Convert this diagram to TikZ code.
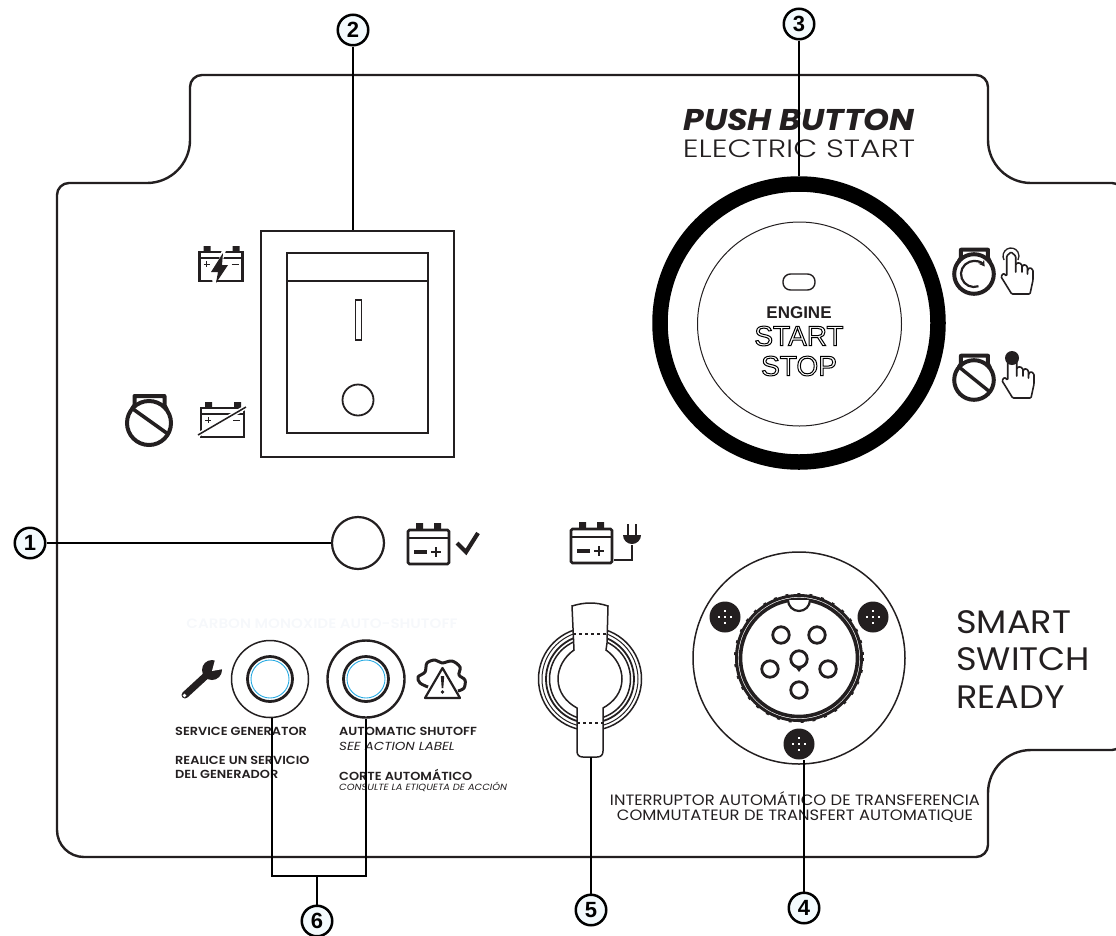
\documentclass[tikz,border=0pt]{standalone}
\usepackage{fontspec}
\usepackage{xcolor}
\usepackage{tikz}
\usetikzlibrary{arrows.meta}
\setmainfont{Poppins}
\newfontfamily\helvfont{Liberation Sans}
\newfontfamily\thinfont[FakeStretch=1.25]{Poppins Light}
\newfontfamily\widefont[FakeStretch=1.08]{Poppins}
\newfontfamily\capsfont[FakeStretch=1.1]{Poppins SemiBold}
\definecolor{PANELink}{HTML}{231F20}
\definecolor{PANELfaint}{HTML}{F6F8FB}
\definecolor{PANELcall}{HTML}{F3FAFD}
\definecolor{PANELcyan}{HTML}{29ABE2}
\newcommand{\outlined}[1]{\special{pdf:code q 1 Tr 1 w}#1\special{pdf:code Q}}
\tikzset{
  x=1pt, y=-1pt,
  panelline/.style={line width=2.4pt, draw=PANELink},
  callnum/.style={circle, draw=black, line width=2.5pt, fill=PANELcall, minimum size=30.5pt, inner sep=0pt, font=\helvfont\bfseries\fontsize{22}{22}\selectfont},
  leader/.style={line width=2.6pt, draw=black},
  thinring/.style={circle, draw=PANELink, line width=1.3pt, inner sep=0pt},
  capleft/.style={anchor=west, inner sep=0pt, text=PANELink, font=\capsfont\fontsize{11.7}{12}\selectfont},
  capital/.style={anchor=west, inner sep=0pt, text=PANELink, font=\fontsize{11.7}{12}\selectfont\itshape\addfontfeature{FakeStretch=1.15}},
  bigword/.style={anchor=west, inner sep=0pt, text=PANELink, font=\widefont\fontsize{32.5}{33}\selectfont},
  transfer/.style={inner sep=0pt, text=PANELink, font=\fontsize{15}{16}\selectfont\addfontfeature{FakeStretch=1.09}},
  pinring/.style={circle, draw=PANELink, line width=2.8pt, minimum size=16.5pt, inner sep=0pt},
  boltdisc/.style={circle, fill=PANELink, minimum size=31pt, inner sep=0pt},
  pics/battbig/.style={code={
    \draw[line width=2.8pt, draw=PANELink, rounded corners=1.5pt] (0,0) rectangle (41,34);
    \fill[PANELink] (8,-7) rectangle (15,0) (26,-7) rectangle (33,0);
    \draw[line width=1.6pt, draw=PANELink] (0,8) -- (41,8);
    \fill[PANELink] (6,20) rectangle (19,24);
    \draw[line width=2pt, draw=PANELink] (23,22) -- (33,22) (28,17) -- (28,27);
  }},
  pics/battsmall/.style={code={
    \draw[line width=2.2pt, draw=PANELink] (0,0) rectangle (43,29);
    \fill[PANELink] (4,-6) rectangle (11,0) (33,-6) rectangle (40,0);
    \draw[line width=1.6pt, draw=PANELink] (0,6) -- (43,6);
    \draw[line width=.8pt, draw=PANELink] (4,12) -- (10,12) (7,9) -- (7,15) (32,12) -- (39,12);
  }},
  pics/engine/.style={code={
    \draw[line width=4pt, draw=PANELink] (0,0) circle[radius=22];
    \draw[line width=4pt, draw=PANELink, line join=round] (-17,-14) -- (-14.5,-18) -- (-14.5,-27) -- (15.5,-27) -- (15.5,-18) -- (18,-13);
  }},
  pics/handicon/.style={code={
    \draw[line width=1.6pt, draw=PANELink, fill=white, rounded corners=1pt, line join=round] (-4.3,0) -- (-4.3,20) -- (-7.7,17.3) -- (-10,20.7) -- (.7,38) -- (19,38) -- (22,24) -- (22,14) -- (19,11.5) -- (16.5,14) -- (16.5,19) -- (16.5,11) -- (14,8.5) -- (11,10) -- (11,17) -- (11,9) -- (8,6.5) -- (4.7,8) -- (4.7,17) -- (4.7,0) -- (0,-4) -- cycle;
  }}
}
\begin{document}
\begin{tikzpicture}
  \useasboundingbox (0,0) rectangle (1116,935);
  \draw[panelline, rounded corners=12pt] (57,500) -- (57,183) [rounded corners=43pt] -- (190,183) [rounded corners=12pt] -- (190,75) -- (988,75) [rounded corners=43pt] -- (988,183) [rounded corners=10pt] -- (1122,183) -- (1122,750) [rounded corners=43pt] -- (988,750) [rounded corners=12pt] -- (988,857) [rounded corners=27pt] -- (57,857) -- (57,500);

  \node[anchor=center, inner sep=0pt, text=PANELink, font=\fontsize{30}{30}\selectfont\bfseries\itshape\addfontfeature{FakeStretch=1.1}] (pushlabel) at (799,120) {PUSH BUTTON};
  \node[anchor=center, inner sep=0pt, text=PANELink, font=\thinfont\fontsize{25}{26}\selectfont] (startlabel) at (799,149) {ELECTRIC START};

  \node[draw=PANELink, line width=2.6pt, minimum width=193pt, minimum height=226pt, inner sep=0pt] (swframe) at (357.5,344) {};
  \node[draw=PANELink, line width=2.2pt, minimum width=141pt, minimum height=180pt, inner sep=0pt] (swrocker) at (357.5,343) {};
  \draw[line width=2.2pt, draw=PANELink] (swrocker.west |- 0,281) -- (swrocker.east |- 0,281);
  \node[draw=PANELink, line width=1.8pt, minimum width=6pt, minimum height=40pt, inner sep=0pt] (swbar) at (358.5,320) {};
  \node[thinring, line width=1.8pt, minimum size=31pt] (swdot) at (358,400) {};

  \pic at (199.5,252) {battsmall};
  \draw[white, line width=4pt] (224,250) -- (214,282);
  \fill[PANELink] (223,253) -- (211,272) -- (218,272) -- (216,283) -- (228,265) -- (222,265) -- cycle;
  \pic at (201,408) {battsmall};
  \draw[white, line width=4.5pt] (198,435) -- (246,407);
  \draw[line width=1.5pt, draw=PANELink] (198,435) -- (246,407);
  \pic at (149,423) {engine};
  \draw[line width=3.6pt, draw=PANELink] (133,409) -- (168,434);

  \node[thinring, line width=2.2pt, minimum size=52pt] (lamp) at (358,543) {};
  \pic at (408,530) {battbig};
  \draw[line width=4.2pt, draw=PANELink] (457,543) -- (466,552) -- (478,533);
  \pic at (571,529) {battbig};
  \draw[line width=1.8pt, draw=PANELink] (614,560) -- (632,560) -- (632,545);
  \fill[PANELink] (623,535) -- (641,535) arc (0:180:9) -- cycle;
  \draw[line width=2.2pt, draw=PANELink] (628,524) -- (628,535) (636,524) -- (636,535);

  \node[circle, draw=black, line width=15.5pt, minimum size=278pt, inner sep=0pt] (keyring) at (799,323) {};
  \node[thinring, line width=1pt, minimum size=204pt] (keycap) at (799.5,324) {};
  \node[draw=PANELink, line width=1.4pt, rounded corners=7.5pt, minimum width=32pt, minimum height=16pt, inner sep=0pt] (keypill) at (799,282) {};
  \node[inner sep=0pt, text=PANELink, font=\helvfont\bfseries\fontsize{17}{17}\selectfont] (keyengine) at (799,313) {ENGINE};
  \node[inner sep=0pt, font=\helvfont\fontsize{28}{28}\selectfont] (keystart) at (799,336) {\outlined{START}};
  \node[inner sep=0pt, font=\helvfont\fontsize{28}{28}\selectfont] (keystop) at (799,366) {\outlined{STOP}};

  \pic[scale=.9] at (974,274) {engine};
  \draw[line width=2.2pt, draw=PANELink, -{Stealth[length=6pt, width=7pt]}] (974,274) ++(70:13) arc (70:325:13);
  \pic at (1011,256) {handicon};
  \draw[line width=1.3pt, draw=PANELink] (1011,256) ++(150:8) arc (150:390:8);
  \pic[scale=.9] at (974,380) {engine};
  \draw[line width=3.4pt, draw=PANELink] (959,367) -- (990,392);
  \pic at (1012,360) {handicon};
  \fill[PANELink] (1012,358) circle[radius=7];

  \node[inner sep=0pt, text=PANELfaint, font=\capsfont\fontsize{13.7}{14}\selectfont] (faintlabel) at (322,624) {CARBON MONOXIDE AUTO-SHUTOFF};

  \draw[line width=7pt, draw=PANELink, line cap=round] (185,695) -- (210,672);
  \fill[PANELink] (212,670) circle[radius=10];
  \fill[white] (212,671) -- (216,656) -- (229,668) -- cycle;
  \fill[white] (184.5,695.5) circle[radius=1.8];

  \node[thinring, line width=1.5pt, minimum size=77pt] (servout) at (270,679) {};
  \node[thinring, line width=2.8pt, minimum size=45pt] (servmid) at (270,679) {};
  \node[circle, draw=PANELcyan, line width=.9pt, minimum size=38pt, inner sep=0pt] (servin) at (270,679) {};
  \node[thinring, line width=2.4pt, minimum size=77pt] (shutout) at (366,679) {};
  \node[thinring, line width=2.8pt, minimum size=45pt] (shutmid) at (366,679) {};
  \node[circle, draw=PANELcyan, line width=.9pt, minimum size=38pt, inner sep=0pt] (shutin) at (366,679) {};

  \draw[line width=3pt, draw=PANELink, line join=round] plot[smooth, tension=.55] coordinates {(428,687) (420,683) (418,677) (425,672) (427,663) (435,660) (442,663) (452,661) (460,667) (459,675) (465,680) (464,688) (458,691)};
  \draw[line width=2.2pt, draw=PANELink, fill=white, line join=round] (442.5,668) -- (425,698) -- (460,698) -- cycle;
  \fill[PANELink] (440.8,676) -- (444.2,676) -- (443.3,688) -- (441.7,688) -- cycle;
  \fill[PANELink] (442.5,692) circle[radius=1.8];

  \node[capleft] (servlabel) at (175,731.5) {SERVICE GENERATOR};
  \node[capleft] (servesa) at (175,760) {REALICE UN SERVICIO};
  \node[capleft] (servesb) at (175,774) {DEL GENERADOR};
  \node[capleft] (shutlabel) at (339,731.5) {AUTOMATIC SHUTOFF};
  \node[capital] (shutsee) at (339,746) {SEE ACTION LABEL};
  \node[capleft] (shutes) at (339,775) {CORTE AUTOMÁTICO};
  \node[capital, font=\fontsize{9}{10}\selectfont\itshape\addfontfeature{FakeStretch=1.1}] (shutsub) at (339,787) {CONSULTE LA ETIQUETA DE ACCIÓN};

  \node[thinring, line width=1.5pt, minimum size=103pt] (outleta) at (590,679) {};
  \node[thinring, line width=1pt, minimum size=96pt] (outletb) at (590,679) {};
  \node[thinring, line width=1.8pt, minimum size=88pt] (outletc) at (590,679) {};
  \node[thinring, line width=1.5pt, minimum size=81pt] (outletd) at (590,679) {};
  \draw[line width=1.5pt, draw=PANELink, fill=white] (572,606) .. controls (585,602) and (596,602) .. (608,606) -- (607,643) -- (606,650) .. controls (616,657) and (622,668) .. (622,679) .. controls (622,692) and (614,702) .. (603,708) -- (603,751) .. controls (603,755) and (601,757) .. (597,757) -- (583,757) .. controls (579,757) and (577,755) .. (577,751) -- (577,708) .. controls (566,702) and (558,692) .. (558,679) .. controls (558,668) and (564,657) .. (574,650) -- cycle;
  \draw[line width=1.2pt, draw=PANELink, dashed] (573,634) -- (607,634) (577,723) -- (603,723);

  \node[thinring, line width=1.5pt, minimum size=212pt] (connbase) at (799,658) {};
  \node[circle, draw=PANELink, line width=3pt, minimum size=125pt, inner sep=0pt] (connouter) at (799,658) {};
  \node[circle, draw=PANELink, line width=3.6pt, minimum size=117pt, inner sep=0pt] (conninner) at (799,658) {};
  \draw[line width=2pt, draw=PANELink, dash pattern=on 3pt off 9pt] (799,658) circle[radius=64];
  \draw[line width=2.2pt, draw=PANELink, fill=white] (788,600) arc (180:0:11);
  \foreach \pinx/\piny [count=\pinno] in {781/635, 817/635, 799/659, 770/669, 828/669, 799/690}
    \node[pinring] (pin\pinno) at (\pinx,\piny) {};
  \fill[PANELink] (796,668) -- (802,668) -- (799,672) -- cycle;
  \node[boltdisc] (boltl) at (725,617) {};
  \node[boltdisc] (boltr) at (873,617) {};
  \node[boltdisc] (boltb) at (799,744) {};
  \foreach \bx/\by in {725/617, 873/617, 799/744}
    \draw[white, line width=1.2pt, dash pattern=on 2pt off 4pt] (\bx-7,\by) -- (\bx+7,\by) (\bx,\by-7) -- (\bx,\by+7);

  \node[bigword] (smartword) at (956,622) {SMART};
  \node[bigword] (switchword) at (956,659) {SWITCH};
  \node[bigword] (readyword) at (956,697) {READY};
  \node[transfer] (transfa) at (795,799) {INTERRUPTOR AUTOMÁTICO DE TRANSFERENCIA};
  \node[transfer] (transfb) at (795,816) {COMMUTATEUR DE TRANSFERT AUTOMATIQUE};

  \node[callnum] (num1) at (30,543) {1};
  \node[callnum] (num2) at (353,30) {2};
  \node[callnum] (num3) at (799,24) {3};
  \node[callnum] (num4) at (804,908) {4};
  \node[callnum] (num5) at (591,910) {5};
  \node[callnum] (num6) at (317,921) {6};
  \coordinate (brace) at (317,876);
  \coordinate (bracel) at (272,876);
  \coordinate (bracer) at (366,876);

  \draw[leader] (num1) -- (lamp);
  \draw[leader] (num2) -- (num2 |- swframe.north);
  \draw[leader] (num3) -- (keyring);
  \draw[leader] (num4) -- (num4 |- boltb.south);
  \draw[leader] (num5) -- (num5 |- 0,757);
  \draw[leader] (bracel |- servout.south) -- (bracel) -- (bracer) -- (bracer |- shutout.south);
  \draw[leader] (brace) -- (num6);
\end{tikzpicture}
\end{document}
